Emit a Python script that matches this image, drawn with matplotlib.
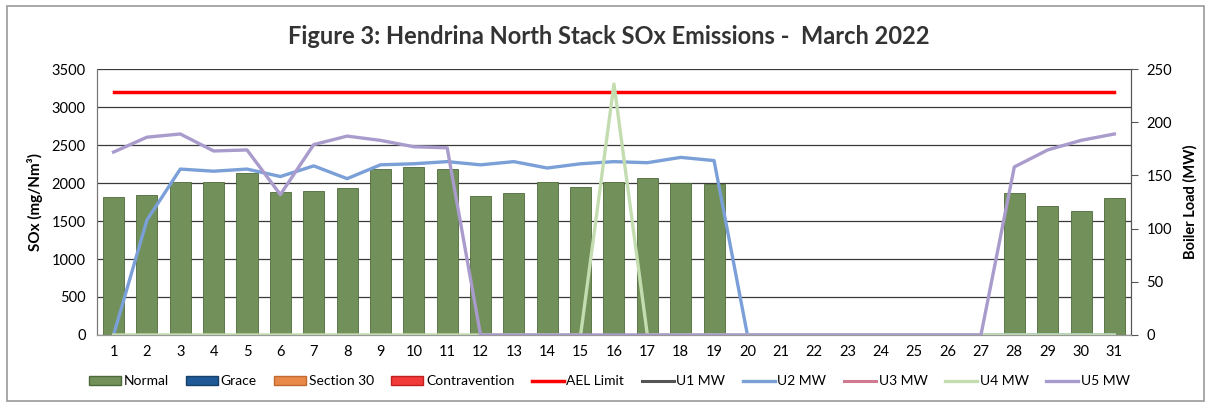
import matplotlib
matplotlib.use("Agg")
import matplotlib.pyplot as plt
from matplotlib.patches import Patch, Rectangle
from matplotlib.lines import Line2D

plt.rcParams['font.family'] = ['Lato', 'DejaVu Sans']

days = list(range(1, 32))
sox_normal = [1820, 1840, 2010, 2010, 2130, 1880, 1900, 1940, 2185, 2215,
              2185, 1835, 1870, 2015, 1950, 2010, 2065, 1995, 1990, 0,
              0, 0, 0, 0, 0, 0, 0, 1865, 1700, 1635, 1805]
ael_limit = [3200] * 31
u1_mw = [0] * 31
u2_mw = [0, 108, 156, 154, 156, 149, 159, 147, 160, 161,
         163, 160, 163, 157, 161, 163, 162, 167, 164, 0,
         0, 0, 0, 0, 0, 0, 0, 0, 0, 0, 0]
u3_mw = [0] * 31
u4_mw = [0] * 15 + [236] + [0] * 15
u5_mw = [172, 186, 189, 173, 174, 132, 179, 187, 183, 177,
         176, 0, 0, 0, 0, 0, 0, 0, 0, 0,
         0, 0, 0, 0, 0, 0, 0, 158, 174, 183, 189]

green = '#71905A'
fig = plt.figure(figsize=(12.11, 4.09), dpi=100)
ax = fig.add_axes([0.080, 0.181, 0.854, 0.650])
ax2 = ax.twinx()

ax.set_axisbelow(True)
ax.yaxis.grid(True, color='#3a3a3a', linewidth=0.9)
ax.bar(days, sox_normal, width=0.63, color=green, edgecolor='#4f6a3a', linewidth=0.6, zorder=2)
ax.plot(days, ael_limit, color='#FF0000', linewidth=2.5, zorder=3)

ax2.plot(days, u1_mw, color='#555555', linewidth=2.2)
ax2.plot(days, u3_mw, color='#D07A90', linewidth=2.2)
ax2.plot(days, u2_mw, color='#7BA0D8', linewidth=2.4)
ax2.plot(days, u4_mw, color='#C4DDB0', linewidth=2.4)
ax2.plot(days, u5_mw, color='#A99BCC', linewidth=2.4)

ax.set_xlim(0.5, 31.5)
ax.set_ylim(0, 3500)
ax2.set_ylim(0, 250)
ax.set_xticks(days)
ax.set_yticks(range(0, 3501, 500))
ax2.set_yticks(range(0, 251, 50))
ax.tick_params(axis='x', length=0, labelsize=10.5, pad=7)
ax.tick_params(axis='y', length=0, labelsize=10.5, pad=8)
ax2.tick_params(axis='y', length=5, labelsize=10.5, pad=6, color='#555555')
ax.set_ylabel('SOx (mg/Nm³)', fontsize=11, fontweight='bold', labelpad=6)
ax2.set_ylabel('Boiler Load (MW)', fontsize=10.5, fontweight='bold', labelpad=8)

for a in (ax, ax2):
    a.spines['top'].set_visible(False)
    a.spines['left'].set_color('#777777')
    a.spines['right'].set_color('#555555')
    a.spines['bottom'].set_color('#999999')

fig.text(0.503, 0.91, 'Figure 3: Hendrina North Stack SOx Emissions -  March 2022',
         ha='center', va='center', fontsize=17, fontweight='bold', color='#333333')

handles = [
    Patch(facecolor=green, edgecolor='#4f6a3a', label='Normal'),
    Patch(facecolor='#1F5A96', edgecolor='#17406b', label='Grace'),
    Patch(facecolor='#E8894A', edgecolor='#c06a30', label='Section 30'),
    Patch(facecolor='#F23A3A', edgecolor='#c02020', label='Contravention'),
    Line2D([], [], color='#FF0000', linewidth=2.5, label='AEL Limit'),
    Line2D([], [], color='#555555', linewidth=2.2, label='U1 MW'),
    Line2D([], [], color='#7BA0D8', linewidth=2.4, label='U2 MW'),
    Line2D([], [], color='#D07A90', linewidth=2.2, label='U3 MW'),
    Line2D([], [], color='#C4DDB0', linewidth=2.4, label='U4 MW'),
    Line2D([], [], color='#A99BCC', linewidth=2.4, label='U5 MW'),
]
fig.legend(handles=handles, loc='center', bbox_to_anchor=(0.503, 0.068), ncol=10,
           frameon=False, fontsize=10, handlelength=2.3, handleheight=0.6,
           handletextpad=0.2, columnspacing=1.25)

fig.patches.append(Rectangle((0.006, 0.02), 0.988, 0.965, transform=fig.transFigure,
                             fill=False, edgecolor='#999999', linewidth=1.2))

fig.savefig('out.png', dpi=100)
